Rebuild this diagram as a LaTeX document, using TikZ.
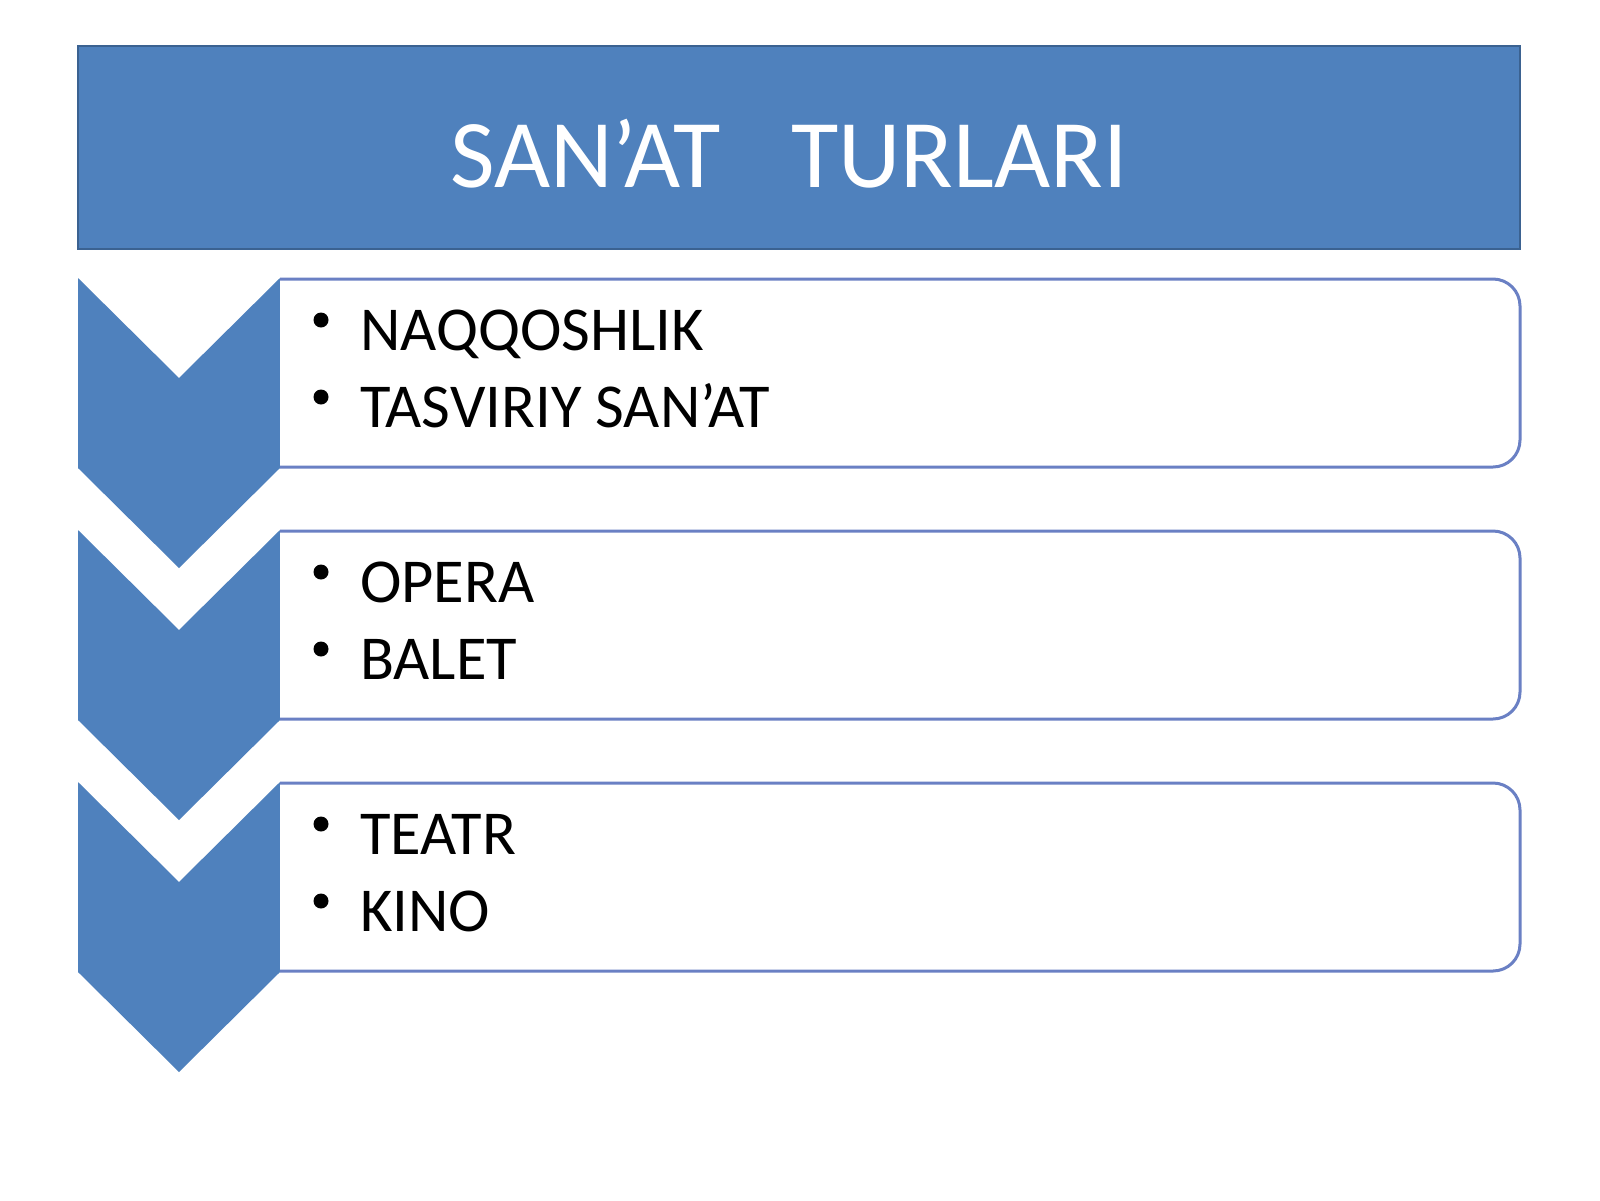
\documentclass[tikz,border=0pt]{standalone}
\usepackage{fontspec}
\setmainfont{Carlito}
\definecolor{accent}{HTML}{4F81BD}
\definecolor{accentdark}{HTML}{3B6291}
\definecolor{boxline}{HTML}{6A80C4}
\begin{document}
\begin{tikzpicture}[x=1pt,y=-1pt,
  titlebox/.style={fill=accent,draw=accentdark,line width=2pt},
  chev/.style={fill=accent,draw=none},
  listbox/.style={fill=white,draw=boxline,line width=3pt,rounded corners=27pt},
  itemtext/.style={anchor=base west,inner sep=0pt,font=\fontsize{62.5}{75}\selectfont,text=black},
  bulletdot/.style={circle,fill=black,inner sep=0pt,minimum size=15pt},
  titletext/.style={anchor=base west,inner sep=0pt,font=\fontsize{97}{116}\selectfont,text=white}]
\useasboundingbox[fill=white] (0,0) rectangle (1600,1200);
% title
\draw[titlebox] (78,46) rectangle (1520,249);
\node[titletext] (title) at (450,187) {SAN’AT\hspace{71pt}TURLARI};
% three levels
\foreach \i/\t in {1/278,2/530,3/782}{
  \fill[chev] (78,\t) -- (179,\t+100) -- (280,\t) -- (280,\t+190) -- (179,\t+290) -- (78,\t+190) -- cycle;
  \fill[white] (280,\t+1) rectangle (1500,\t+189);
  \draw[listbox] (280,\t+1) -- (1520,\t+1) -- (1520,\t+189) -- (280,\t+189);
}
% items
\node[bulletdot] (b1) at (321,320) {};
\node[itemtext] (t1) at (360,350) {NAQQOSHLIK};
\node[bulletdot] (b2) at (321,397) {};
\node[itemtext] (t2) at (360,427) {TASVIRIY SAN’AT};
\node[bulletdot] (b3) at (321,572) {};
\node[itemtext] (t3) at (360,602) {OPERA};
\node[bulletdot] (b4) at (321,649) {};
\node[itemtext] (t4) at (360,679) {BALET};
\node[bulletdot] (b5) at (321,824) {};
\node[itemtext] (t5) at (360,854) {TEATR};
\node[bulletdot] (b6) at (321,901) {};
\node[itemtext] (t6) at (360,931) {KINO};
\end{tikzpicture}
\end{document}
